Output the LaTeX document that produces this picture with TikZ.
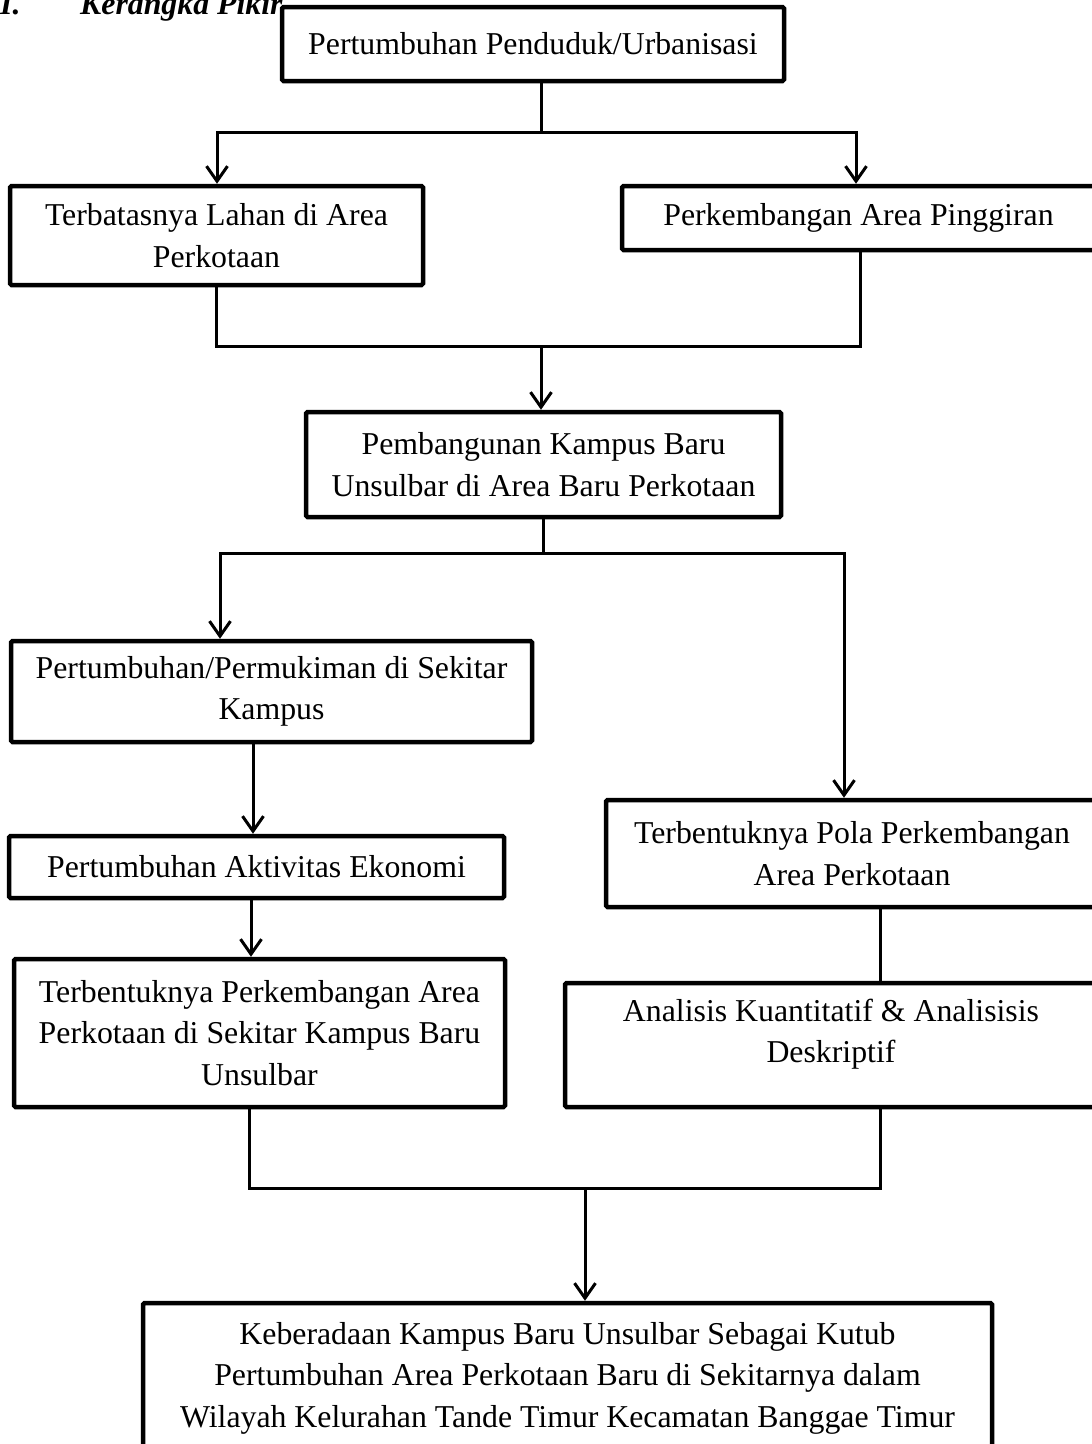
\documentclass[tikz,border=0pt]{standalone}
\usepackage{fontspec}
\setmainfont{Liberation Serif}
\usetikzlibrary{arrows.meta}
\newcommand\mainsz{\fontsize{31.8}{41.5}\selectfont}
\tikzset{
  boxn/.style={draw=black, line width=4.5pt, rounded corners=1.5pt, inner sep=0pt, align=center, font=\mainsz},
  txt/.style={inner sep=0pt, align=center, font=\mainsz},
  conn/.style={line width=3pt, line cap=rect},
  arr/.style={line width=3pt, -{Straight Barb[length=15pt,width=21pt]}},
}
\begin{document}
\begin{tikzpicture}[x=1pt,y=-1pt]
\useasboundingbox (0,0) rectangle (1092,1444);
\clip (0,0) rectangle (1092,1444);
\fill[white] (0,0) rectangle (1092,1444);

% title
\node[inner sep=0pt, anchor=base west, font=\mainsz\bfseries\itshape] (tnum) at (0,14) {I.};
\node[inner sep=0pt, anchor=base west, font=\mainsz\bfseries\itshape] (ttl) at (80,14) {Kerangka Pikir};

% boxes
\node[boxn, minimum width=502pt, minimum height=74pt] (top) at (533,44) {Pertumbuhan Penduduk/Urbanisasi};
\node[boxn, minimum width=413pt, minimum height=99pt] (lahan) at (216.5,235.5) {Terbatasnya Lahan di Area\\Perkotaan};
\node[boxn, minimum width=473pt, minimum height=64pt] (pinggir) at (858.5,218) {Perkembangan Area Pinggiran};
\node[boxn, minimum width=475pt, minimum height=105pt] (kampus) at (543.5,464.5) {Pembangunan Kampus Baru\\Unsulbar di Area Baru Perkotaan};
\node[boxn, minimum width=521pt, minimum height=101pt] (mukim) at (271.5,691.5) {Pertumbuhan/Permukiman di Sekitar\\Kampus};
\node[boxn, minimum width=495pt, minimum height=62pt] (ekon) at (256.5,867) {Pertumbuhan Aktivitas Ekonomi};
\node[boxn, minimum width=491pt, minimum height=148pt] (kota) at (259.5,1033) {Terbentuknya Perkembangan Area\\Perkotaan di Sekitar Kampus Baru\\Unsulbar};
\node[boxn, minimum width=492pt, minimum height=107pt] (pola) at (852,853.5) {Terbentuknya Pola Perkembangan\\Area Perkotaan};
\node[boxn, minimum width=532pt, minimum height=124pt] (anal) at (831,1045) {};
\node[txt] (analt) at (831,1034) {Analisis Kuantitatif \& Analisisis\\Deskriptif};
\node[boxn, minimum width=849pt, minimum height=167pt] (final) at (567.5,1386.5) {};
\node[txt, baseline=0pt] (finalt) at (567.5,1378) {Keberadaan Kampus Baru Unsulbar Sebagai Kutub\\Pertumbuhan Area Perkotaan Baru di Sekitarnya dalam\\Wilayah Kelurahan Tande Timur Kecamatan Banggae Timur};

% junction coordinates
\coordinate (j1) at (541,132);
\coordinate (j1l) at (217,132);
\coordinate (j1r) at (856,132);
\coordinate (j2) at (541,346);
\coordinate (j2l) at (216,346);
\coordinate (j2r) at (860,346);
\coordinate (j3) at (543,553);
\coordinate (j3l) at (220,553);
\coordinate (j3r) at (844,553);
\coordinate (c1) at (253,800);
\coordinate (c2) at (251,930);
\coordinate (c3) at (880,950);
\coordinate (j4) at (585,1188);
\coordinate (j4l) at (249,1188);
\coordinate (j4r) at (880,1188);

% connectors
\draw[conn] (j1 |- top.south) -- (j1);
\draw[conn] (j1l) -- (j1r);
\draw[arr] (j1l) -- (j1l |- lahan.north);
\draw[arr] (j1r) -- (j1r |- pinggir.north);

\draw[conn] (j2l |- lahan.south) -- (j2l) -- (j2r) -- (j2r |- pinggir.south);
\draw[arr] (j2) -- (j2 |- kampus.north);

\draw[conn] (j3 |- kampus.south) -- (j3);
\draw[conn] (j3l) -- (j3r);
\draw[arr] (j3l) -- (j3l |- mukim.north);
\draw[arr] (j3r) -- (j3r |- pola.north);

\draw[arr] (c1 |- mukim.south) -- (c1 |- ekon.north);
\draw[arr] (c2 |- ekon.south) -- (c2 |- kota.north);
\draw[conn] (c3 |- pola.south) -- (c3 |- anal.north);

\draw[conn] (j4l |- kota.south) -- (j4l) -- (j4r) -- (j4r |- anal.south);
\draw[arr] (j4) -- (j4 |- final.north);
\end{tikzpicture}
\end{document}
